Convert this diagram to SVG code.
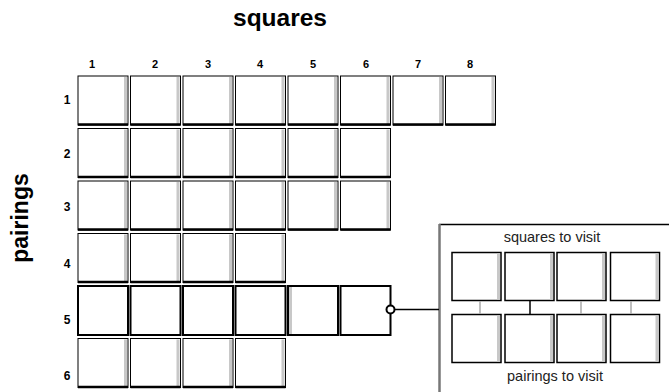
<svg xmlns="http://www.w3.org/2000/svg" width="669" height="392" viewBox="0 0 669 392">
<style>
text{font-family:"Liberation Sans",Arial,sans-serif;fill:#000}
.title{font-size:24.5px;font-weight:bold}
.lab{font-size:11px;font-weight:bold;text-anchor:middle}
.rlab{font-size:12px;font-weight:bold;text-anchor:middle}
.ptxt{font-size:14.5px;text-anchor:middle;fill:#222}
.sq{fill:#fff;stroke:#000;stroke-width:1}
.sq5{fill:#fff;stroke:#000;stroke-width:2}
.sh{fill:#c8c8c8}
.bt{stroke:#000;stroke-width:2.5}
.con{stroke:#000;stroke-width:1.5;fill:none}
</style>
<defs>
<g id="cell">
<rect class="sq" x="0" y="0" width="50" height="49"/>
<rect class="sh" x="46" y="1" width="3" height="47"/>
<line class="bt" x1="0" y1="48.5" x2="50" y2="48.5"/>
</g>
<g id="cellR">
<rect class="sh" x="46" y="1" width="3" height="47"/>
<rect class="sq5" x="0" y="0" width="50" height="49"/>
</g>
<g id="cellL">
<rect class="sq5" x="0" y="0" width="50" height="49"/>
<rect class="sh" x="1" y="1" width="3" height="47"/>
</g>
<g id="cellN">
<rect class="sq5" x="0" y="0" width="50" height="49"/>
</g>
<g id="pcell">
<rect fill="#fff" stroke="#000" stroke-width="1.5" x="0" y="0" width="49" height="48"/>
<rect class="sh" x="45" y="1" width="3" height="46"/>
</g>
</defs>

<text class="title" x="233" y="26">squares</text>
<text class="title" transform="translate(28,218) rotate(-90)" text-anchor="middle" style="font-size:23px">pairings</text>

<g id="col-labels">
<text class="lab" x="92" y="68">1</text>
<text class="lab" x="155" y="68">2</text>
<text class="lab" x="208" y="68">3</text>
<text class="lab" x="260" y="68">4</text>
<text class="lab" x="313" y="68">5</text>
<text class="lab" x="366" y="68">6</text>
<text class="lab" x="418" y="68">7</text>
<text class="lab" x="470" y="68">8</text>
</g>
<g id="row-labels">
<text class="rlab" x="67" y="104">1</text>
<text class="rlab" x="67" y="158">2</text>
<text class="rlab" x="67" y="211">3</text>
<text class="rlab" x="67" y="268">4</text>
<text class="rlab" x="67" y="324">5</text>
<text class="rlab" x="67" y="380">6</text>
</g>

<g id="row1">
<use href="#cell" x="78" y="76"/><use href="#cell" x="130.5" y="76"/><use href="#cell" x="183" y="76"/><use href="#cell" x="235.5" y="76"/>
<use href="#cell" x="288" y="76"/><use href="#cell" x="340.5" y="76"/><use href="#cell" x="393" y="76"/><use href="#cell" x="445.5" y="76"/>
</g>
<g id="row2">
<use href="#cell" x="78" y="128.5"/><use href="#cell" x="130.5" y="128.5"/><use href="#cell" x="183" y="128.5"/><use href="#cell" x="235.5" y="128.5"/>
<use href="#cell" x="288" y="128.5"/><use href="#cell" x="340.5" y="128.5"/>
</g>
<g id="row3">
<use href="#cell" x="78" y="181"/><use href="#cell" x="130.5" y="181"/><use href="#cell" x="183" y="181"/><use href="#cell" x="235.5" y="181"/>
<use href="#cell" x="288" y="181"/><use href="#cell" x="340.5" y="181"/>
</g>
<g id="row4">
<use href="#cell" x="78" y="233.5"/><use href="#cell" x="130.5" y="233.5"/><use href="#cell" x="183" y="233.5"/><use href="#cell" x="235.5" y="233.5"/>
</g>
<g id="row5">
<use href="#cellR" x="78" y="286"/><use href="#cellR" x="130.5" y="286"/><use href="#cellR" x="183" y="286"/><use href="#cellR" x="235.5" y="286"/>
<use href="#cellL" x="288" y="286"/><use href="#cellN" x="340.5" y="286"/>
</g>
<g id="row6">
<use href="#cell" x="78" y="338.5"/><use href="#cell" x="130.5" y="338.5"/><use href="#cell" x="183" y="338.5"/><use href="#cell" x="235.5" y="338.5"/>
</g>

<g id="panel">
<rect x="439" y="224" width="232" height="170" fill="#fff"/>
<line x1="439" y1="224.5" x2="669" y2="224.5" stroke="#000" stroke-width="1.5"/>
<line x1="439.5" y1="224" x2="439.5" y2="392" stroke="#777" stroke-width="2.5"/>
<text class="ptxt" x="552" y="242">squares to visit</text>
<use href="#pcell" x="452" y="252.5"/><use href="#pcell" x="505" y="252.5"/><use href="#pcell" x="557" y="252.5"/><use href="#pcell" x="610.5" y="252.5"/>
<use href="#pcell" x="452" y="314.5"/><use href="#pcell" x="505" y="314.5"/><use href="#pcell" x="557" y="314.5"/><use href="#pcell" x="610.5" y="314.5"/>
<text class="ptxt" x="555" y="381">pairings to visit</text>
</g>

<g id="connectors">
<line x1="480" y1="301" x2="480" y2="314" stroke="#aaa" stroke-width="1.5"/>
<line x1="530" y1="301" x2="530" y2="314" stroke="#000" stroke-width="1.5"/>
<line x1="581" y1="301" x2="581" y2="314" stroke="#aaa" stroke-width="1.5"/>
<line x1="631" y1="301" x2="631" y2="314" stroke="#aaa" stroke-width="1.5"/>
<line class="con" x1="395" y1="309.5" x2="439" y2="309.5"/>
<circle cx="390.5" cy="309.5" r="4" fill="#fff" stroke="#000" stroke-width="2"/>
</g>
</svg>
